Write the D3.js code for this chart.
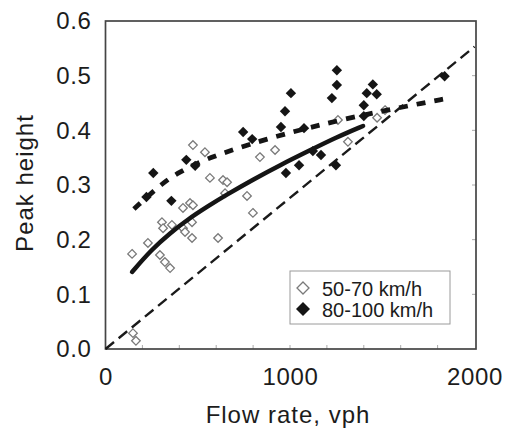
<!DOCTYPE html>
<html>
<head>
<meta charset="utf-8">
<script src="https://cdn.jsdelivr.net/npm/d3@7"></script>
<style>
  body { margin: 0; background: #fff; }
  text { font-family: "Liberation Sans", Arial, Helvetica, sans-serif; fill: #1c1c1c; }
</style>
</head>
<body>
<svg id="chart" width="510" height="433"></svg>
<script>
// Axis ticks
const xTicks = [0, 1000, 2000];
const yTicks = [0, 0.1, 0.2, 0.3, 0.4, 0.5, 0.6];
const xMinorTicks = [200, 400, 600, 800, 1000, 1200, 1400, 1600, 1800];
const seriesNames = ["50-70 km/h", "80-100 km/h"];

// Observations, 50-70 km/h (flow rate vph, peak height)
const lowFlow = [144, 149, 165, 230, 295, 322, 350, 306, 312, 360, 420, 469, 469, 431, 458, 420, 474,
                 474, 539, 566, 637, 659, 648, 610, 767, 799, 837, 919, 1260, 1314, 1472, 1515];
const lowPeak = [0.174, 0.029, 0.015, 0.194, 0.172, 0.159, 0.148, 0.232, 0.221, 0.227, 0.221, 0.232, 0.203, 0.214, 0.267, 0.258, 0.263,
                 0.373, 0.360, 0.313, 0.309, 0.305, 0.285, 0.203, 0.280, 0.249, 0.351, 0.364, 0.419, 0.379, 0.423, 0.437];

// Observations, 80-100 km/h
const highFlow = [222, 259, 357, 438, 486, 746, 795, 951, 973, 1005, 978, 1049, 1076, 1124, 1168,
                  1227, 1254, 1254, 1249, 1400, 1416, 1449, 1470, 1400, 1838];
const highPeak = [0.278, 0.322, 0.271, 0.346, 0.335, 0.397, 0.384, 0.406, 0.435, 0.468, 0.322, 0.336, 0.404, 0.362, 0.355,
                  0.459, 0.510, 0.483, 0.336, 0.446, 0.468, 0.484, 0.466, 0.426, 0.499];

// Fitted trend, 50-70 km/h
const lowFitFlow = [144, 250, 350, 450, 550, 650, 800, 950, 1100, 1250, 1396];
const lowFitPeak = [0.141, 0.182, 0.212, 0.238, 0.260, 0.281, 0.310, 0.337, 0.362, 0.387, 0.408];

// Fitted trend, 80-100 km/h
const highFitFlow = [154, 312, 404, 496, 593, 686, 892, 1092, 1300, 1526, 1720, 1830];
const highFitPeak = [0.256, 0.305, 0.324, 0.340, 0.353, 0.364, 0.386, 0.404, 0.421, 0.437, 0.450, 0.457];

// Reference line (peak height equal to flow in vehicles per second)
const refFlow = [0, 2000];
const refPeak = [0, 0.553];

const svg = d3.select("#chart");
const plot = { left: 105.5, right: 476, top: 21, bottom: 349 };

const x = d3.scaleLinear().domain([0, 2000]).range([plot.left, 474.5]);
const y = d3.scaleLinear().domain([0, 0.6]).range([plot.bottom, plot.top]);

// Inner tick marks on bottom and right edges
svg.append("g").selectAll("line").data(xMinorTicks).join("line")
  .attr("x1", d => x(d)).attr("x2", d => x(d))
  .attr("y1", plot.bottom).attr("y2", plot.bottom - 4)
  .attr("stroke", "#aaa").attr("stroke-width", 1);
svg.append("g").selectAll("line").data(yTicks.slice(1, -1)).join("line")
  .attr("x1", plot.right).attr("x2", plot.right - 4)
  .attr("y1", d => y(d)).attr("y2", d => y(d))
  .attr("stroke", "#aaa").attr("stroke-width", 1);

// Frame
svg.append("rect")
  .attr("x", plot.left).attr("y", plot.top)
  .attr("width", plot.right - plot.left).attr("height", plot.bottom - plot.top)
  .attr("fill", "none").attr("stroke", "#454545").attr("stroke-width", 1.7);

// Axes
const xAxis = svg.append("g").attr("transform", `translate(0,${plot.bottom})`)
  .call(d3.axisBottom(x).tickValues(xTicks).tickSize(0).tickPadding(19).tickFormat(d3.format("d")));
xAxis.select(".domain").remove();
xAxis.selectAll("text").style("font-size", "24px").attr("letter-spacing", "0.6px");

const yAxis = svg.append("g").attr("transform", `translate(${plot.left},0)`)
  .call(d3.axisLeft(y).tickValues(yTicks).tickSize(0).tickPadding(14).tickFormat(d3.format(".1f")));
yAxis.select(".domain").remove();
yAxis.selectAll("text").style("font-size", "24px").attr("letter-spacing", "0.6px");

svg.append("text")
  .attr("x", 288).attr("y", 423).attr("text-anchor", "middle")
  .attr("letter-spacing", "1px").style("font-size", "24px")
  .text("Flow rate, vph");
svg.append("text")
  .attr("transform", "translate(33,183) rotate(-90)").attr("text-anchor", "middle")
  .attr("letter-spacing", "1px").style("font-size", "24px")
  .text("Peak height");

// Lines
const line = d3.line().x(d => x(d[0])).y(d => y(d[1]));
const smooth = d3.line().x(d => x(d[0])).y(d => y(d[1])).curve(d3.curveBasis);

svg.append("path")
  .attr("d", line(d3.zip(refFlow, refPeak)))
  .attr("fill", "none").attr("stroke", "#1a1a1a").attr("stroke-width", 2.4)
  .attr("stroke-dasharray", "11,6");

// Markers
const diamond = (s) => `M0,${-s}L${s},0L0,${s}L${-s},0Z`;

svg.append("g").selectAll("path").data(d3.zip(lowFlow, lowPeak)).join("path")
  .attr("transform", d => `translate(${x(d[0])},${y(d[1])})`)
  .attr("d", diamond(4.3))
  .attr("fill", "#fff").attr("stroke", "#7a7a7a").attr("stroke-width", 1.3);

svg.append("g").selectAll("path").data(d3.zip(highFlow, highPeak)).join("path")
  .attr("transform", d => `translate(${x(d[0])},${y(d[1])})`)
  .attr("d", diamond(5.2))
  .attr("fill", "#151515");

svg.append("path")
  .attr("d", smooth(d3.zip(lowFitFlow, lowFitPeak)))
  .attr("fill", "none").attr("stroke", "#151515").attr("stroke-width", 4.5)
  .attr("stroke-linecap", "round");

svg.append("path")
  .attr("d", smooth(d3.zip(highFitFlow, highFitPeak)))
  .attr("fill", "none").attr("stroke", "#151515").attr("stroke-width", 4.8)
  .attr("stroke-dasharray", "9,9");

// Legend
const legend = svg.append("g");
legend.append("rect")
  .attr("x", 290).attr("y", 271).attr("width", 160).attr("height", 53)
  .attr("fill", "#fff").attr("stroke", "#9a9a9a").attr("stroke-width", 1);
const rows = legend.selectAll("g.row").data(seriesNames).join("g")
  .attr("class", "row")
  .attr("transform", (d, i) => `translate(303,${288 + i * 21})`);
rows.append("path")
  .attr("d", (d, i) => diamond(i === 0 ? 6 : 7))
  .attr("fill", (d, i) => i === 0 ? "#fff" : "#151515")
  .attr("stroke", (d, i) => i === 0 ? "#7a7a7a" : "none")
  .attr("stroke-width", 1.3);
rows.append("text")
  .attr("x", 19).attr("y", 7.5)
  .style("font-size", "20px")
  .text(d => d);
</script>
</body>
</html>
